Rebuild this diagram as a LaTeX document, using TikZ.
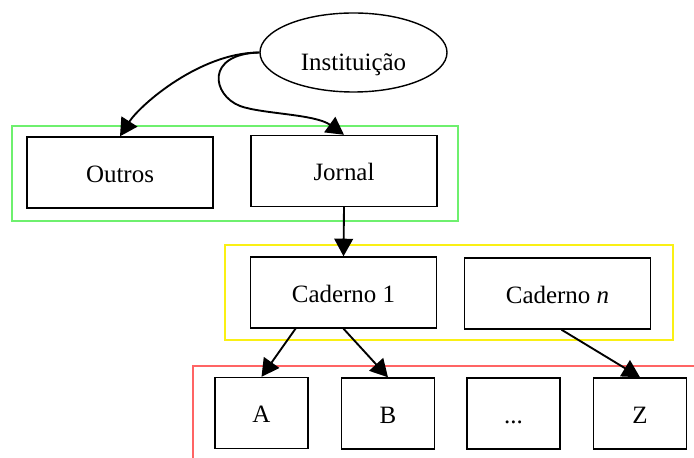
\documentclass[tikz,border=0pt]{standalone}
\usepackage{fontspec}
\setmainfont{Liberation Serif}
\usetikzlibrary{arrows.meta,shapes.geometric,calc}
\definecolor{grpgreen}{RGB}{110,240,110}
\definecolor{grpyellow}{RGB}{250,240,20}
\definecolor{grpred}{RGB}{255,100,100}
\begin{document}
\begin{tikzpicture}[x=0.03cm,y=-0.03cm,
  every node/.style={font=\fontsize{21.3pt}{25pt}\selectfont},
  box/.style={draw, line width=1.2pt, rectangle, inner sep=0pt, text height=17pt, text depth=0pt},
  widebox/.style={box, minimum width=5.58cm, minimum height=2.13cm},
  smallbox/.style={box, minimum width=2.79cm, minimum height=2.13cm},
  conn/.style={line width=1.6pt, -{Triangle[length=15pt,width=16pt]}},
  grp/.style={line width=1.2pt}]
\useasboundingbox (0,0) rectangle (694,458);
\clip (0,0) rectangle (694,458);
% groups
\draw[grp, grpgreen] (12,126) rectangle (458,221);
\draw[grp, grpyellow] (225,245) rectangle (673,340);
\draw[grp, grpred] (193,470) -- (193,366) -- (710,366);
% nodes
\node[ellipse, draw, line width=1.2pt, minimum width=5.61cm, minimum height=2.37cm,
      inner sep=0pt, text height=30pt, text depth=0pt] (inst) at (353.5,52.5) {Instituição};
\node[widebox] (outros) at (120,172.5) {Outros};
\node[widebox] (jornal) at (344,171) {Jornal};
\node[widebox] (c1) at (343.5,292.5) {Caderno 1};
\node[widebox] (cn) at (557.5,293.5) {Caderno \textit{n}};
\node[smallbox] (a) at (261.5,413) {A};
\node[smallbox] (b) at (388,413.5) {B};
\node[smallbox] (dots) at (513.5,413.5) {...};
\node[smallbox] (z) at (640,413.5) {Z};
% connectors
\draw[conn] (inst.west) .. controls (200,52.5) and (140,105) .. (outros.north);
\draw[conn] (inst.west) .. controls (205,54) and (212,95) .. (240,106)
            .. controls (262,114) and (315,114) .. (jornal.north);
\draw[conn] (jornal.south) -- (c1.north);
\draw[conn] ($(c1.south)+(-48,0)$) -- (a.north);
\draw[conn] (c1.south) -- (b.north);
\draw[conn] ($(cn.south)+(4,0)$) -- (z.north);
\end{tikzpicture}
\end{document}
